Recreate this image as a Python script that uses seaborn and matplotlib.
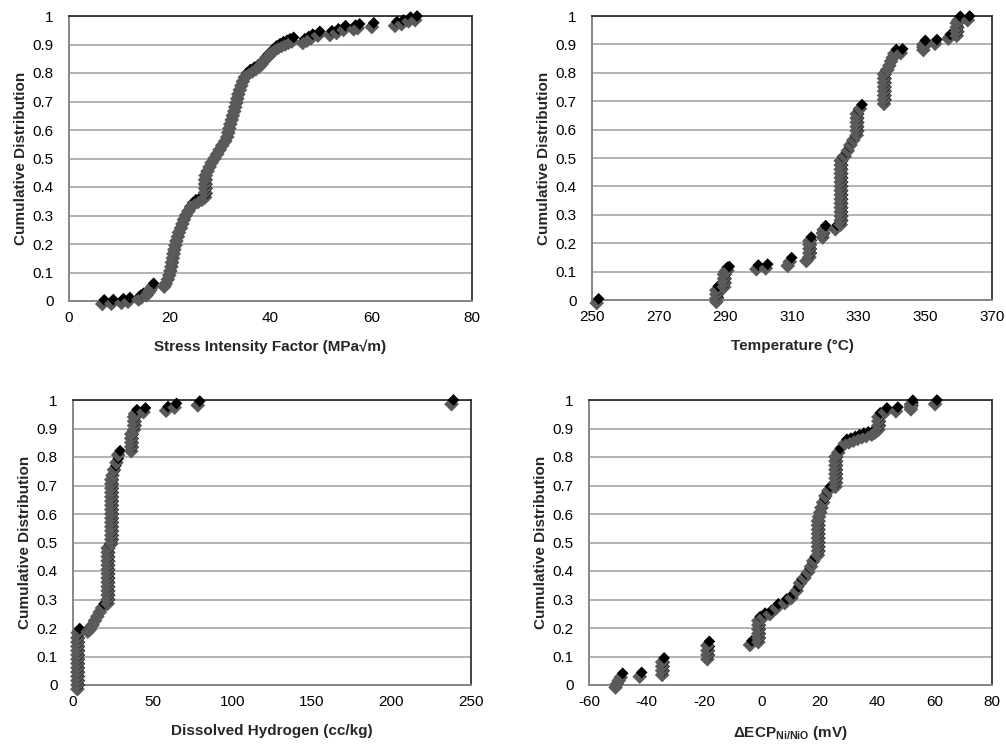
import numpy as np
import pandas as pd
import matplotlib
matplotlib.use("Agg")
import matplotlib.pyplot as plt
import matplotlib.patheffects as pe
from matplotlib.transforms import Affine2D
from matplotlib import font_manager
import seaborn as sns

# ---------------- data ----------------
# Panel 1: stress intensity factor (MPa*sqrt(m)) vs cumulative fraction
k_values = [7.0, 8.8, 10.8, 12.1, 14.2, 14.8, 15.8, 16.2, 16.5, 16.8,
            19.3, 19.6, 20.0, 20.3, 20.5, 20.7, 20.8, 21.0, 21.1, 21.3,
            21.5, 21.7, 22.0, 22.2, 22.6, 22.9, 23.2, 23.6, 24.1, 24.6,
            25.2, 26.0, 26.8, 27.4, 27.4, 27.4, 27.4, 27.4, 27.5, 27.9,
            28.3, 28.7, 29.3, 29.8, 30.3, 30.8, 31.4, 31.8, 32.0, 32.2,
            32.4, 32.7, 32.9, 33.2, 33.4, 33.6, 33.8, 34.0, 34.3, 34.6,
            34.9, 35.3, 36.0, 36.8, 37.5, 38.1, 38.6, 39.0, 39.5, 40.1,
            40.6, 41.2, 41.9, 42.6, 43.3, 43.9, 44.6, 46.8, 47.6, 48.4,
            49.8, 52.2, 53.5, 54.9, 56.9, 57.7, 60.5, 65.1, 66.4, 67.8,
            69.1]
k_cdf = [0.004, 0.005, 0.008, 0.012, 0.020, 0.027, 0.035, 0.045, 0.053, 0.062,
         0.065, 0.075, 0.090, 0.105, 0.120, 0.135, 0.150, 0.165, 0.180, 0.195,
         0.210, 0.225, 0.240, 0.255, 0.270, 0.285, 0.300, 0.315, 0.330, 0.345,
         0.355, 0.362, 0.370, 0.378, 0.395, 0.410, 0.425, 0.440, 0.455, 0.470,
         0.485, 0.500, 0.515, 0.530, 0.545, 0.560, 0.575, 0.590, 0.605, 0.620,
         0.635, 0.650, 0.665, 0.680, 0.695, 0.710, 0.725, 0.740, 0.755, 0.770,
         0.785, 0.800, 0.812, 0.820, 0.828, 0.836, 0.845, 0.855, 0.865, 0.875,
         0.885, 0.895, 0.903, 0.910, 0.915, 0.920, 0.925, 0.920, 0.928, 0.936,
         0.946, 0.948, 0.955, 0.966, 0.968, 0.972, 0.976, 0.980, 0.986, 0.996,
         1.000]

# Panel 2: temperature (deg C)
t_values = [252.0, 287.9, 287.9, 287.9, 287.9, 290.2, 290.2, 290.2, 290.2, 290.6,
            291.2, 299.9, 302.7, 309.3, 309.9, 314.9, 315.8, 315.8, 315.8, 315.8,
            315.8, 319.8, 319.8, 320.1, 323.6, 325.2, 325.2, 325.2, 325.2, 325.2,
            325.2, 325.2, 325.2, 325.2, 325.2, 325.2, 325.2, 325.2, 325.2, 325.2,
            325.2, 326.4, 327.3, 328.1, 329.0, 330.0, 330.0, 330.0, 330.0, 330.0,
            330.0, 331.0, 338.2, 338.2, 338.2, 338.2, 338.2, 338.2, 338.2, 338.2,
            339.2, 339.8, 340.3, 340.8, 341.3, 343.2, 350.0, 350.0, 350.0, 353.5,
            357.5, 360.0, 360.0, 360.0, 360.0, 360.5, 363.3]
t_cdf = [0.004, 0.008, 0.020, 0.035, 0.049, 0.060, 0.075, 0.090, 0.105, 0.115,
         0.118, 0.123, 0.126, 0.135, 0.149, 0.152, 0.165, 0.180, 0.195, 0.210,
         0.222, 0.235, 0.250, 0.262, 0.264, 0.280, 0.295, 0.310, 0.325, 0.340,
         0.355, 0.370, 0.385, 0.400, 0.415, 0.430, 0.445, 0.460, 0.475, 0.490,
         0.505, 0.520, 0.540, 0.560, 0.578, 0.595, 0.610, 0.625, 0.640, 0.655,
         0.670, 0.688, 0.705, 0.720, 0.735, 0.750, 0.765, 0.780, 0.795, 0.810,
         0.825, 0.840, 0.855, 0.868, 0.882, 0.884, 0.895, 0.905, 0.914, 0.917,
         0.935, 0.945, 0.960, 0.975, 0.990, 0.999, 1.000]

# Panel 3: dissolved hydrogen (cc/kg)
h_values = [4.0, 4.0, 4.0, 4.0, 4.0, 4.0, 4.0, 4.0, 4.0, 4.0,
            4.0, 4.0, 4.0, 4.2, 10.5, 12.0, 13.5, 15.0, 16.5, 18.0,
            19.5, 23.0, 23.0, 23.0, 23.0, 23.0, 23.0, 23.0, 23.0, 23.0,
            23.0, 23.0, 23.0, 23.0, 23.0, 25.3, 25.3, 25.3, 25.3, 25.3,
            25.3, 25.3, 25.3, 25.3, 25.3, 25.3, 25.3, 25.3, 25.3, 25.3,
            25.3, 26.0, 27.0, 28.5, 29.6, 37.8, 37.8, 37.8, 37.8, 37.8,
            39.6, 39.6, 39.6, 39.6, 40.2, 45.5, 59.7, 65.0, 79.6, 239.0]
h_cdf = [0.000, 0.015, 0.030, 0.045, 0.060, 0.075, 0.090, 0.105, 0.120, 0.135,
         0.150, 0.165, 0.180, 0.198, 0.202, 0.210, 0.225, 0.240, 0.255, 0.270,
         0.285, 0.300, 0.315, 0.330, 0.345, 0.360, 0.375, 0.390, 0.405, 0.420,
         0.435, 0.450, 0.465, 0.480, 0.495, 0.510, 0.525, 0.540, 0.555, 0.570,
         0.585, 0.600, 0.615, 0.630, 0.645, 0.660, 0.675, 0.690, 0.705, 0.720,
         0.735, 0.750, 0.770, 0.795, 0.822, 0.835, 0.850, 0.865, 0.880, 0.895,
         0.910, 0.925, 0.940, 0.955, 0.966, 0.972, 0.977, 0.988, 0.996, 1.000]

# Panel 4: delta ECP Ni/NiO (mV)
e_values = [-50.1, -49.6, -49.0, -48.3, -41.7, -33.9, -33.9, -33.9, -33.9, -18.2,
            -18.2, -18.2, -18.2, -3.4, -0.5, -0.5, -0.5, -0.5, -0.5, -0.5,
            1.2, 3.5, 5.8, 8.7, 11.0, 12.8, 14.0, 15.5, 16.8, 17.8,
            18.6, 20.2, 20.2, 20.2, 20.2, 20.2, 20.2, 20.2, 20.2, 20.2,
            20.6, 21.0, 21.4, 22.0, 22.8, 23.9, 26.3, 26.3, 26.3, 26.3,
            26.3, 26.3, 26.3, 26.3, 27.3, 29.6, 31.0, 32.5, 34.0, 35.5,
            37.0, 38.9, 40.0, 41.2, 41.2, 41.2, 41.2, 43.5, 47.3, 52.5,
            52.5, 52.5, 60.9]
e_cdf = [0.006, 0.018, 0.030, 0.041, 0.044, 0.050, 0.065, 0.080, 0.095, 0.105,
         0.120, 0.135, 0.153, 0.155, 0.165, 0.180, 0.195, 0.210, 0.225, 0.240,
         0.252, 0.263, 0.285, 0.302, 0.320, 0.345, 0.372, 0.390, 0.410, 0.430,
         0.450, 0.470, 0.485, 0.500, 0.515, 0.530, 0.545, 0.560, 0.575, 0.590,
         0.605, 0.620, 0.637, 0.655, 0.678, 0.697, 0.710, 0.725, 0.740, 0.755,
         0.770, 0.785, 0.800, 0.815, 0.830, 0.862, 0.866, 0.872, 0.878, 0.884,
         0.888, 0.893, 0.900, 0.910, 0.925, 0.940, 0.955, 0.972, 0.975, 0.982,
         0.990, 0.999, 1.000]

y_ticks = [0.0, 0.1, 0.2, 0.3, 0.4, 0.5, 0.6, 0.7, 0.8, 0.9, 1.0]
y_ticklabels = ["0", "0.1", "0.2", "0.3", "0.4", "0.5", "0.6", "0.7", "0.8", "0.9", "1"]
y_label = "Cumulative Distribution"

# ---------------- style ----------------
sns.set_style("white")
names = {f.name for f in font_manager.fontManager.ttflist}
base = "Liberation Sans Narrow" if "Liberation Sans Narrow" in names else "Liberation Sans"
plt.rcParams["font.family"] = [base, "DejaVu Sans"]
plt.rcParams["mathtext.fontset"] = "custom"
plt.rcParams["mathtext.rm"] = base
plt.rcParams["mathtext.bf"] = base + ":bold"
plt.rcParams["axes.unicode_minus"] = False


class Extruded(pe.AbstractPathEffect):
    """Excel-like marker shadow: grey copy offset down-left, then the marker."""

    def __init__(self, offset=(-1.4, -3.0), color="#5a5a5a", lw=1.5):
        super().__init__(offset=(0, 0))
        self._dx, self._dy = offset
        self._rgb = matplotlib.colors.to_rgb(color)
        self._lw = lw

    def draw_path(self, renderer, gc, tpath, affine, rgbFace):
        gc0 = renderer.new_gc()
        gc0.copy_properties(gc)
        gc0.set_foreground(self._rgb)
        gc0.set_alpha(1.0)
        gc0.set_linewidth(self._lw)
        gc0.set_joinstyle("miter")
        shift = Affine2D().translate(renderer.points_to_pixels(self._dx),
                                     renderer.points_to_pixels(self._dy))
        renderer.draw_path(gc0, tpath, affine + shift, self._rgb)
        gc0.restore()
        renderer.draw_path(gc, tpath, affine, rgbFace)


W, H = 1006, 744
fig = plt.figure(figsize=(W / 100, H / 100), dpi=100)

AXIS_GRAY = "#868686"
GRID_GRAY = "#a6a6a6"

panels = [
    # values, cdf, xlim, major, minor, xlabel, box (left, top, right, bottom) px
    (k_values, k_cdf, (0, 80), 20, 4, "Stress Intensity Factor (MPa\u221am)", (69, 16, 472, 301)),
    (t_values, t_cdf, (250, 370), 20, 4, "Temperature (\u00b0C)", (592, 16, 992, 300)),
    (h_values, h_cdf, (0, 250), 50, 10, "Dissolved Hydrogen (cc/kg)", (73, 400, 471, 685)),
    (e_values, e_cdf, (-60, 80), 20, 4, r"$\mathbf{\Delta ECP_{Ni/NiO}}$ (mV)", (589, 400, 992, 685)),
]

for vals, cdf, xlim, major, minor, xlabel, (l, t, r, b) in panels:
    ax = fig.add_axes([l / W, 1 - b / H, (r - l) / W, (b - t) / H])
    df = pd.DataFrame({"x": vals, "F": cdf})
    sns.scatterplot(data=df, x="x", y="F", ax=ax, marker="D", s=36, color="black",
                    linewidth=0, zorder=3, clip_on=False,
                    path_effects=[Extruded()], legend=False)
    ax.set_xlim(*xlim)
    ax.set_ylim(0, 1)
    ax.set_yticks(y_ticks)
    ax.set_yticklabels(y_ticklabels)
    ax.set_xticks(np.arange(xlim[0], xlim[1] + 1e-9, major))
    ax.set_xticks(np.arange(xlim[0], xlim[1] + 1e-9, minor), minor=True)
    ax.tick_params(axis="x", which="major", direction="inout", length=7, width=1,
                   color=AXIS_GRAY, labelsize=11, pad=4, labelcolor="black")
    ax.tick_params(axis="x", which="minor", direction="in", length=3.5, width=1, color=AXIS_GRAY)
    ax.tick_params(axis="y", which="major", direction="out", length=4, width=1,
                   color=AXIS_GRAY, labelsize=11, pad=7, labelcolor="black")
    ax.grid(axis="y", color=GRID_GRAY, lw=1.2)
    ax.grid(axis="x", visible=False)
    ax.set_axisbelow(True)
    for side in ("left", "bottom"):
        ax.spines[side].set_color(AXIS_GRAY)
        ax.spines[side].set_linewidth(1.4)
    for side in ("top", "right"):
        ax.spines[side].set_color("#222222")
        ax.spines[side].set_linewidth(1.2)
    ax.set_xlabel(xlabel, fontsize=11, fontweight="bold")
    ax.set_ylabel(y_label, fontsize=11, fontweight="bold")
    wpx, hpx = r - l, b - t
    ax.xaxis.set_label_coords(0.5, -39 / hpx)
    ax.yaxis.set_label_coords(-41 / wpx, 0.5)

fig.savefig("out.png", dpi=100)
